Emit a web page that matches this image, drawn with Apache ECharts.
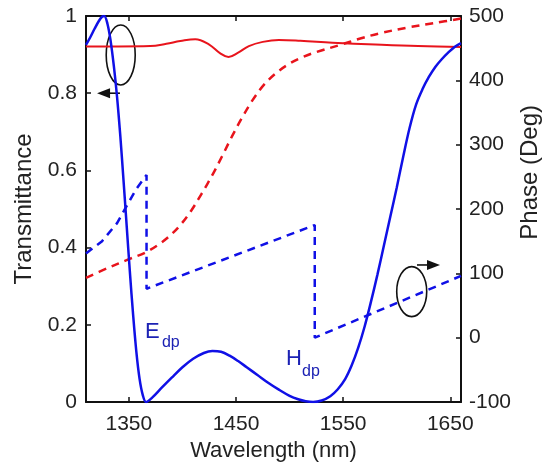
<!DOCTYPE html>
<html>
<head>
<meta charset="utf-8">
<script src="https://cdn.jsdelivr.net/npm/echarts@6/dist/echarts.min.js"></script>
<style>
html,body{margin:0;padding:0;background:#fff;}
#c{width:543px;height:467px;}
</style>
</head>
<body>
<div id="c"></div>
<script>
// ---- data ----
var xTicks = [1350, 1450, 1550, 1650];

// Blue solid: transmittance (left axis)
var blueTWl = [1310,1314,1318,1322,1325,1327,1330,1333,1336,1339,1342,1345,1348,1351,1354,1357,1360,1363,1366,
  1372,1380,1390,1400,1410,1420,1428,1436,1444,1452,1460,1470,1480,1490,1500,1508,1515,1522,
  1530,1538,1545,1552,1558,1564,1570,1576,1582,1588,1594,1600,1606,1612,1618,1624,1630,1636,1642,1648,1654,1660];
var blueTVal = [0.925,0.945,0.967,0.987,0.998,1.0,0.98,0.935,0.87,0.79,0.69,0.575,0.455,0.335,0.225,0.13,0.06,0.018,0.0,
  0.012,0.035,0.063,0.09,0.112,0.127,0.132,0.13,0.12,0.106,0.09,0.07,0.05,0.032,0.016,0.007,0.002,0.0,
  0.004,0.015,0.033,0.06,0.095,0.14,0.195,0.26,0.33,0.405,0.48,0.555,0.635,0.71,0.77,0.81,0.842,0.868,0.888,0.905,0.92,0.93];

// Red solid: transmittance (left axis)
var redTWl = [1310,1340,1370,1385,1398,1412,1425,1435,1443,1452,1462,1475,1490,1510,1540,1580,1620,1660];
var redTVal = [0.921,0.921,0.922,0.928,0.935,0.94,0.926,0.904,0.894,0.905,0.922,0.933,0.938,0.936,0.931,0.926,0.922,0.92];

// Red dashed: phase (right axis)
var redPWl = [1310,1330,1350,1365,1378,1388,1398,1408,1418,1428,1437,1446,1455,1465,1476,1488,1500,1512,1525,1547,1566,1584,1610,1635,1660];
var redPVal = [93,108,122,132,145,158,175,197,224,253,282,312,340,368,393,412,426,436,444,455,465,473,482,489,496];

// Blue dashed: phase (right axis)
var bluePWl = [1310,1325,1339,1348,1357,1366.5,1366.5,1523.5,1523.5,1660];
var bluePVal = [131,150,178,205,231,253,76,175,0,96];

function pairs(xs, ys){ return xs.map(function(x,i){ return [x, ys[i]]; }); }

var BLUE = '#1010e6', RED = '#e8141c', TXT = '#222';
var FONT = 'Liberation Sans, Arial, sans-serif';

var chart = echarts.init(document.getElementById('c'), null, {renderer:'canvas'});
var axisLineStyle = {color:'#111', width:2};
var tickStyle = {color:'#111', width:1.5};

chart.setOption({
  animation:false,
  backgroundColor:'#fff',
  grid:{left:86, right:82, top:16, bottom:65, containLabel:false, outerBoundsMode:'none'},
  xAxis:[{
    type:'value', min:1310, max:1660, position:'bottom',
    name:'Wavelength (nm)', nameLocation:'middle', nameGap:35,
    nameTextStyle:{color:TXT, fontSize:22, fontFamily:FONT},
    axisLine:{show:true, onZero:false, lineStyle:axisLineStyle},
    axisTick:{show:true, inside:true, length:5, lineStyle:tickStyle, customValues:xTicks},
    axisLabel:{show:true, color:TXT, fontSize:21, fontFamily:FONT, margin:12, customValues:xTicks,
      formatter:function(v){ return String(v); }},
    splitLine:{show:false}
  },{
    type:'value', min:1310, max:1660, position:'top',
    axisLine:{show:true, onZero:false, lineStyle:axisLineStyle},
    axisTick:{show:true, inside:true, length:5, lineStyle:tickStyle, customValues:xTicks},
    axisLabel:{show:false},
    splitLine:{show:false}
  }],
  yAxis:[{
    type:'value', min:0, max:1, interval:0.2, position:'left',
    name:'Transmittance', nameLocation:'middle', nameGap:50,
    nameTextStyle:{color:TXT, fontSize:24, fontFamily:FONT},
    axisLine:{show:true, onZero:false, lineStyle:axisLineStyle},
    axisTick:{show:true, inside:true, length:5, lineStyle:tickStyle},
    axisLabel:{color:TXT, fontSize:21, fontFamily:FONT, margin:9},
    splitLine:{show:false}
  },{
    type:'value', min:-100, max:500, interval:100, position:'right',
    axisLine:{show:true, onZero:false, lineStyle:axisLineStyle},
    axisTick:{show:true, inside:true, length:5, lineStyle:tickStyle},
    axisLabel:{color:TXT, fontSize:21, fontFamily:FONT, margin:8},
    splitLine:{show:false}
  }],
  series:[
    {type:'line', name:'red phase', xAxisIndex:0, yAxisIndex:1, data:pairs(redPWl, redPVal),
     showSymbol:false, symbol:'none', smooth:0.35, lineStyle:{color:RED, width:2.5, type:[8,6]}},
    {type:'line', name:'blue phase', xAxisIndex:0, yAxisIndex:1, data:pairs(bluePWl, bluePVal),
     showSymbol:false, symbol:'none', smooth:false, lineStyle:{color:BLUE, width:2.5, type:[8,6]}},
    {type:'line', name:'red T', xAxisIndex:0, yAxisIndex:0, data:pairs(redTWl, redTVal),
     showSymbol:false, symbol:'none', smooth:0.4, lineStyle:{color:RED, width:2}},
    {type:'line', name:'blue T', xAxisIndex:0, yAxisIndex:0, data:pairs(blueTWl, blueTVal),
     showSymbol:false, symbol:'none', smooth:0.35, lineStyle:{color:BLUE, width:2.5}}
  ]
});

// ---- annotations anchored in data space (left axis coords) ----
function px(wl, t){ return chart.convertToPixel({xAxisIndex:0, yAxisIndex:0}, [wl, t]); }
var eA = px(1365.1, 0.181), eS = px(1380.9, 0.155);
var hA = px(1496.7, 0.111), hS = px(1511.6, 0.080);
var ell1 = px(1342.4, 0.899), arr1a = px(1341.7, 0.80), arr1b = px(1320.3, 0.80);
var ell2 = px(1614.0, 0.286), arr2a = px(1618.9, 0.355), arr2b = px(1640.4, 0.355);
var rightTitle = px(1660, 0.595);
var LBL = '#1c22b4';

function arrowHead(tip, dir){ // dir: -1 left, +1 right
  var len = 13, half = 5;
  return [[tip[0], tip[1]], [tip[0] - dir*len, tip[1] - half], [tip[0] - dir*len, tip[1] + half]];
}

chart.setOption({
  graphic:[
    {type:'text', x:rightTitle[0] + 69, y:rightTitle[1], rotation:Math.PI/2,
     style:{text:'Phase (Deg)', fill:TXT, font:'24px ' + FONT, textAlign:'center', textVerticalAlign:'middle'}},
    {type:'text', style:{text:'E', x:eA[0], y:eA[1], fill:LBL, font:'22px ' + FONT, textVerticalAlign:'middle', textAlign:'left'}},
    {type:'text', style:{text:'dp', x:eS[0], y:eS[1], fill:LBL, font:'16px ' + FONT, textVerticalAlign:'middle', textAlign:'left'}},
    {type:'text', style:{text:'H', x:hA[0], y:hA[1], fill:LBL, font:'22px ' + FONT, textVerticalAlign:'middle', textAlign:'left'}},
    {type:'text', style:{text:'dp', x:hS[0], y:hS[1], fill:LBL, font:'16px ' + FONT, textVerticalAlign:'middle', textAlign:'left'}},
    {type:'ellipse', shape:{cx:ell1[0], cy:ell1[1], rx:14.5, ry:30}, style:{fill:'none', stroke:'#111', lineWidth:1.6}},
    {type:'line', shape:{x1:arr1a[0], y1:arr1a[1], x2:arr1b[0]+8, y2:arr1b[1]}, style:{stroke:'#111', lineWidth:1.6}},
    {type:'polygon', shape:{points:arrowHead(arr1b, -1)}, style:{fill:'#111'}},
    {type:'ellipse', shape:{cx:ell2[0], cy:ell2[1], rx:15, ry:25}, style:{fill:'none', stroke:'#111', lineWidth:1.6}},
    {type:'line', shape:{x1:arr2a[0], y1:arr2a[1], x2:arr2b[0]-8, y2:arr2b[1]}, style:{stroke:'#111', lineWidth:1.6}},
    {type:'polygon', shape:{points:arrowHead(arr2b, 1)}, style:{fill:'#111'}}
  ]
});
</script>
</body>
</html>
